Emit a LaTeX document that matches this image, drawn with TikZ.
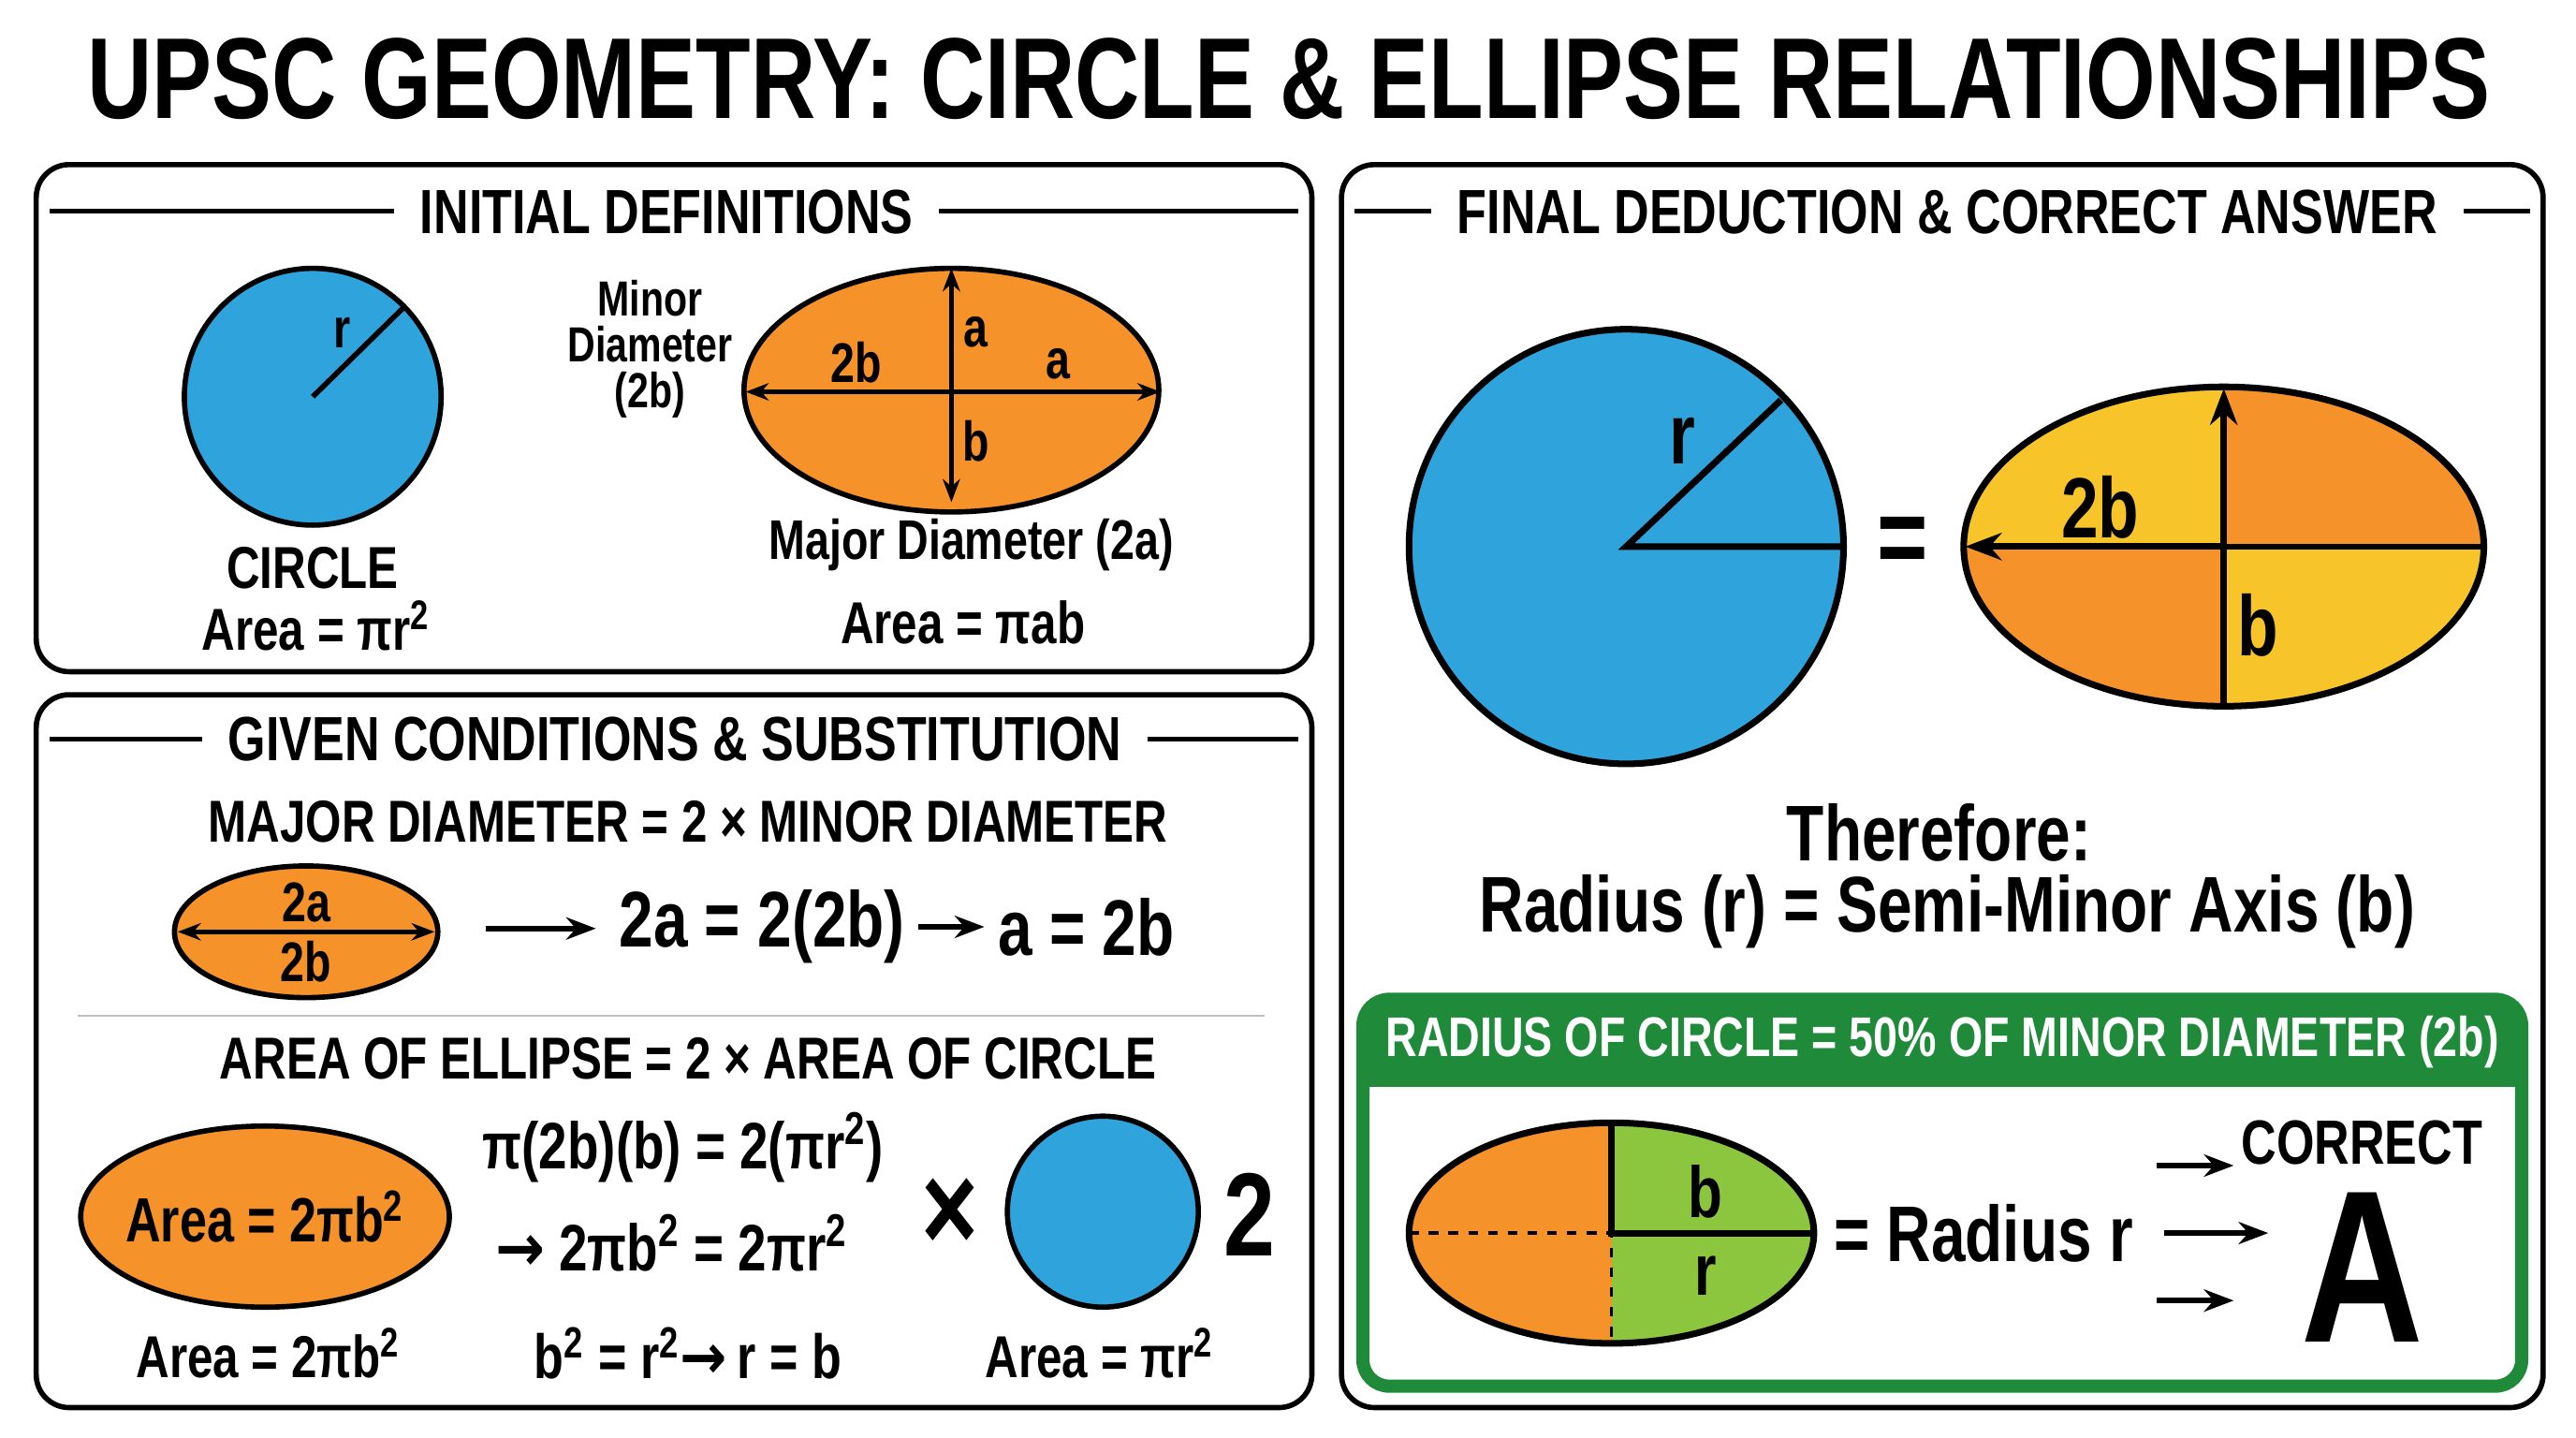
\documentclass[tikz,border=0pt]{standalone}
\usepackage{fontspec}
\setmainfont{Liberation Sans}[FakeStretch=0.78]
\newfontfamily\sym{DejaVu Sans}[FakeStretch=0.9]
\usetikzlibrary{arrows.meta}
\definecolor{cblue}{HTML}{2FA4DC}
\definecolor{corange}{HTML}{F5922A}
\definecolor{cyellow}{HTML}{F7C52A}
\definecolor{cgreen}{HTML}{1F8A3A}
\definecolor{clime}{HTML}{8CC63F}
\newcommand{\fsz}[1]{\fontsize{#1}{#1}\selectfont\bfseries}
\newcommand{\ar}{{\sym\bfseries →}}
\tikzset{
  panel/.style={line width=1.6pt, rounded corners=10pt},
  head/.style={fill=white, inner xsep=8pt, font=\fsz{19}},
  txt/.style={font=\fsz{17}},
  big/.style={font=\fsz{24}},
  fig/.style={line width=1.6pt, draw=black},
  arr/.style={line width=1.6pt, -{Stealth[length=9pt]}},
  darr/.style={line width=1.4pt, {Stealth[length=7pt]}-{Stealth[length=7pt]}},
}
\begin{document}
\begin{tikzpicture}[x=0.01759cm, y=-0.01759cm]
  \useasboundingbox (0,0) rectangle (1565,873);
  \fill[white] (0,0) rectangle (1565,873);
  % title
  \node[font=\fsz{35}] (title) at (783,48) {UPSC GEOMETRY: CIRCLE \& ELLIPSE RELATIONSHIPS};

  % initial definitions panel
  \draw[panel] (22,100) rectangle (797,408);
  \draw[line width=1.4pt] (30,128) -- (789,128);
  \node[head] (hdefs) at (405,129) {INITIAL DEFINITIONS};
  \draw[fig, fill=cblue] (190,241) coordinate (cc) circle (78);
  \coordinate (ccr) at (245,187);
  \draw[line width=1.6pt] (cc) -- (ccr);
  \node[txt] (lr) at (208,202) {r};
  \node[txt, font=\fsz{18}] (lcirc) at (190,345) {CIRCLE};
  \node[txt, font=\fsz{18}] (acirc) at (192,380) {Area = πr\textsuperscript{2}};
  \draw[fig, fill=corange] (578,237) ellipse (126 and 74);
  \coordinate (et) at (578,163); \coordinate (eb) at (578,305);
  \coordinate (el) at (453,238); \coordinate (er) at (705,238);
  \draw[darr] (et) -- (eb);
  \draw[darr] (el) -- (er);
  \node[txt] (la1) at (593,202) {a};
  \node[txt] (la2) at (643,221) {a};
  \node[txt] (l2b) at (520,220) {2b};
  \node[txt] (lb) at (593,268) {b};
  \node[txt, align=center, font=\fontsize{15}{14}\selectfont\bfseries] (lminor) at (395,212) {Minor\\Diameter\\(2b)};
  \node[txt] (lmajor) at (590,331) {Major Diameter (2a)};
  \node[txt, font=\fsz{18}] (aell) at (585,378) {Area = πab};

  % given conditions panel
  \draw[panel] (22,422) rectangle (797,855);
  \draw[line width=1.4pt] (30,449) -- (789,449);
  \node[head] (hgiven) at (410,449) {GIVEN CONDITIONS \& SUBSTITUTION};
  \node[txt, font=\fsz{18}] (cond1) at (418,499) {MAJOR DIAMETER = 2 × MINOR DIAMETER};
  \draw[fig, fill=corange] (186,566) ellipse (80 and 40);
  \coordinate (sl) at (108,566); \coordinate (sr) at (264,566);
  \draw[darr] (sl) -- (sr);
  \node[txt] (s2a) at (186,548) {2a};
  \node[txt] (s2b) at (186,584) {2b};
  \coordinate (a1s) at (295,564); \coordinate (a1e) at (362,564);
  \draw[arr] (a1s) -- (a1e);
  \node[big] (eq1) at (463,563) {2a = 2(2b)};
  \coordinate (a2s) at (558,563); \coordinate (a2e) at (598,563);
  \draw[arr] (a2s) -- (a2e);
  \node[big] (eq2) at (660,563) {a = 2b};
  \draw[gray!50, line width=0.8pt] (47,617) -- (768,617);
  \node[txt, font=\fsz{18}] (cond2) at (418,643) {AREA OF ELLIPSE = 2 × AREA OF CIRCLE};
  \draw[fig, fill=corange] (161,739) ellipse (112 and 55);
  \node[txt, font=\fsz{19}] (aell2) at (161,739) {Area = 2πb\textsuperscript{2}};
  \node[txt, font=\fsz{18}] (aell3) at (163,822) {Area = 2πb\textsuperscript{2}};
  \node[txt, font=\fsz{20}] (eq3) at (415,697) {π(2b)(b) = 2(πr\textsuperscript{2})};
  \node[txt, font=\fsz{20}] (eq4) at (408,755) {\ar\ 2πb\textsuperscript{2} = 2πr\textsuperscript{2}};
  \node[txt, font=\fsz{19}] (eq5) at (418,822) {b\textsuperscript{2} = r\textsuperscript{2}\ar\,r = b};
  \node[font=\fsz{38}] (times) at (577,738) {×};
  \draw[fig, fill=cblue] (670,736) circle (58);
  \node[font=\fsz{36}] (two) at (759,738) {2};
  \node[txt, font=\fsz{18}] (acirc2) at (668,822) {Area = πr\textsuperscript{2}};

  % final deduction panel
  \draw[panel] (815,100) rectangle (1545,855);
  \draw[line width=1.4pt] (823,128) -- (1537,128);
  \node[head] (hfinal) at (1183,129) {FINAL DEDUCTION \& CORRECT ANSWER};
  \draw[fig, line width=2pt, fill=cblue] (988,332) coordinate (bc) circle (132);
  \coordinate (bcr) at (1082,243); \coordinate (bce) at (1120,332);
  \draw[line width=2pt] (bcr) -- (bc) -- (bce);
  \node[font=\fsz{26}] (br) at (1022,268) {r};
  \node[font=\fsz{34}] (eqs) at (1156,332) {=};
  \coordinate (ec) at (1351,332);
  \begin{scope}
    \clip (ec) ellipse (158 and 97);
    \fill[corange] (1190,230) rectangle (1512,434);
    \fill[cyellow] (1190,230) rectangle (ec);
    \fill[cyellow] (ec) rectangle (1512,434);
  \end{scope}
  \draw[fig, line width=2pt] (ec) ellipse (158 and 97);
  \coordinate (ecr) at (1509,332); \coordinate (ecb) at (1351,429);
  \coordinate (ect) at (1351,236); \coordinate (ecl) at (1194,332);
  \draw[line width=1.6pt] (ec) -- (ecr);
  \draw[line width=2pt] (ec) -- (ecb);
  \draw[line width=2pt, -{Stealth[length=11pt]}] (ec) -- (ect);
  \draw[line width=2pt, -{Stealth[length=11pt]}] (ec) -- (ecl);
  \node[font=\fsz{26}] (b2b) at (1276,308) {2b};
  \node[font=\fsz{26}] (bb) at (1372,380) {b};
  \node[big] (there) at (1178,506) {Therefore:};
  \node[big, font=\fsz{24}] (concl) at (1183,554) {Radius (r) = Semi-Minor Axis (b)};

  % answer box
  \draw[cgreen, line width=4pt, rounded corners=8pt] (828,607) rectangle (1532,842);
  \fill[cgreen, rounded corners=8pt] (828,607) rectangle (1532,660);
  \fill[cgreen] (828,640) rectangle (1532,660);
  \node[white, font=\fsz{17}] (hans) at (1180,633) {RADIUS OF CIRCLE = 50\% OF MINOR DIAMETER (2b)};
  \coordinate (gc) at (979,749);
  \begin{scope}
    \clip (gc) ellipse (123 and 67);
    \fill[corange] (850,678) rectangle (gc |- 0,820);
    \fill[clime] (gc |- 0,678) rectangle (1106,820);
  \end{scope}
  \coordinate (gr) at (1102,749); \coordinate (gl) at (856,749);
  \coordinate (gt) at (979,682); \coordinate (gb) at (979,816);
  \draw[line width=1pt, dashed] (gl) -- (gc) -- (gb);
  \draw[line width=2pt] (gt) -- (gc) -- (gr);
  \draw[fig, line width=2pt] (gc) ellipse (123 and 67);
  \node[font=\fsz{22}] (gbl) at (1036,724) {b};
  \node[font=\fsz{22}] (grl) at (1036,775) {r};
  \node[big] (rad) at (1205,749) {= Radius r};
  \coordinate (r1s) at (1310,708); \coordinate (r1e) at (1357,708);
  \coordinate (r2s) at (1315,749); \coordinate (r2e) at (1378,749);
  \coordinate (r3s) at (1310,790); \coordinate (r3e) at (1357,790);
  \draw[arr] (r1s) -- (r1e);
  \draw[arr] (r2s) -- (r2e);
  \draw[arr] (r3s) -- (r3e);
  \node[txt, font=\fsz{19}] (corr) at (1435,694) {CORRECT};
  \node[font=\fsz{66}] (ans) at (1435,770) {A};
\end{tikzpicture}
\end{document}
